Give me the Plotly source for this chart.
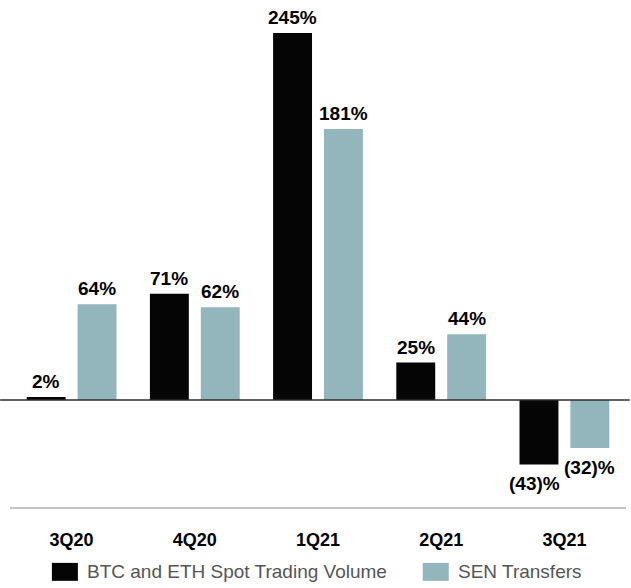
import plotly.graph_objects as go

# Quarter-over-quarter growth, in percent
quarters = ["3Q20", "4Q20", "1Q21", "2Q21", "3Q21"]
spot_volume = [2, 71, 245, 25, -43]
sen_transfers = [64, 62, 181, 44, -32]

series_names = ["BTC and ETH Spot Trading Volume", "SEN Transfers"]
series_colors = ["#050505", "#92b6bc"]


def pct_label(v):
    return f"({abs(v)})%" if v < 0 else f"{v}%"


fig = go.Figure()
for name, vals, color in zip(series_names, [spot_volume, sen_transfers], series_colors):
    fig.add_trace(go.Bar(
        x=quarters, y=vals, name=name,
        marker=dict(color=color, line=dict(width=0)),
        showlegend=False,
    ))

# value labels above (or below, for declines) each bar
label_font = dict(family="Liberation Sans, Arial, sans-serif", size=19, color="#000000")
for shift, vals in zip([-25.5, 25.5], [spot_volume, sen_transfers]):
    for q, v in zip(quarters, vals):
        fig.add_annotation(
            x=q, y=v, xref="x", yref="y",
            text=f"<b>{pct_label(v)}</b>", showarrow=False,
            xshift=shift + (-4 if v < 0 and shift < 0 else 0),
            yanchor="bottom" if v >= 0 else "top",
            yshift=3 if v >= 0 else -7,
            font=label_font,
        )

# baseline at zero, slightly wider than the plot area
fig.add_shape(type="line", xref="paper", yref="y", x0=-0.016, x1=1.006, y0=0, y1=0,
              line=dict(color="#2b2b2b", width=1.5))

# legend drawn as swatches + labels
legend_font = dict(family="Liberation Sans, Arial, sans-serif", size=19, color="#555555")
legend_items = [(0.068, series_colors[0], series_names[0]),
                (0.670, series_colors[1], series_names[1])]
for x0, color, name in legend_items:
    fig.add_shape(type="rect", xref="paper", yref="paper",
                  x0=x0, x1=x0 + 26 / 616, y0=-0.112, y1=-0.148,
                  fillcolor=color, line=dict(width=0))
    fig.add_annotation(xref="paper", yref="paper", x=x0 + 33 / 616, y=-0.130,
                       xanchor="left", yanchor="middle", text=name, showarrow=False,
                       font=legend_font)

fig.update_layout(
    width=631, height=588,
    margin=dict(l=10, r=5, t=8, b=81),
    paper_bgcolor="white", plot_bgcolor="white",
    barmode="group", bargap=0.174, bargroupgap=0.235,
    showlegend=False,
)
fig.update_xaxes(
    showline=True, linecolor="#c4c4c4", linewidth=2,
    ticks="", showgrid=False, ticklabelstandoff=15,
    tickfont=dict(family="Liberation Sans, Arial, sans-serif", size=18, color="#000000"),
    tickvals=quarters, ticktext=[f"<b>{q}</b>" for q in quarters],
)
fig.update_yaxes(
    range=[-71.4, 261.7], visible=False, showgrid=False, zeroline=False,
)

fig.write_html("out.html")
